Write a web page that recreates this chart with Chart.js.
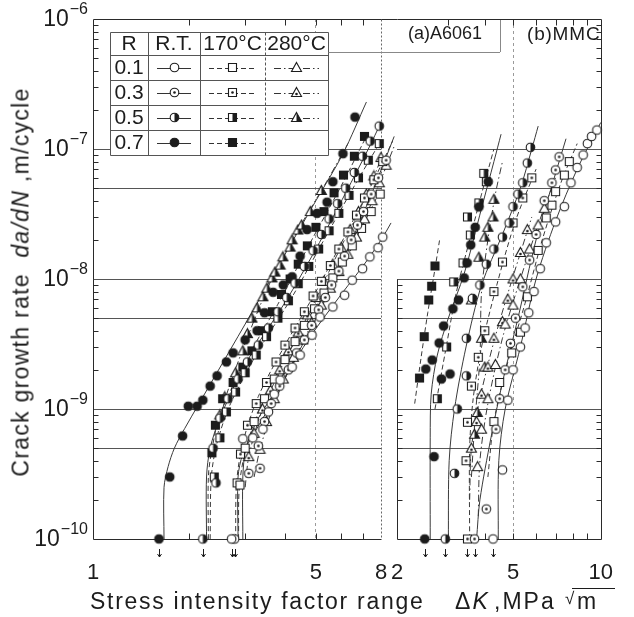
<!DOCTYPE html>
<html>
<head>
<meta charset="utf-8">
<script src="https://cdn.jsdelivr.net/npm/chart.js@4.4.1/dist/chart.umd.min.js"></script>
<style>
  html, body { margin: 0; padding: 0; background: #fff; }
  #wrap { position: relative; width: 634px; height: 617px; overflow: hidden;
          font-family: "Liberation Sans", Arial, Helvetica, sans-serif; color: #1c1c1c; }
  #wrap canvas { position: absolute; left: 0; top: 0; }
  .txt { position: absolute; white-space: nowrap; line-height: 1; }
  #yTitle { left: 21px; top: 282px; font-size: 23px; letter-spacing: 1.3px;
            transform: translate(-50%, -50%) rotate(-90deg); }
  .xt { top: 590px; font-size: 23px; }
  .pl { top: 24px; font-size: 18px; }
</style>
</head>
<body>
<div id="wrap">
  <canvas id="panelA" width="634" height="617"></canvas>
  <canvas id="panelB" width="634" height="617"></canvas>
  <div class="txt" id="yTitle">Crack growth rate&nbsp;&nbsp;<i>da/dN</i>&nbsp;,m/cycle</div>
  <div class="txt xt" style="left:90px; letter-spacing:1.7px;">Stress intensity factor range</div>
  <div class="txt xt" style="left:455px; letter-spacing:2px;">Δ<i>K</i></div>
  <div class="txt xt" style="left:494px; letter-spacing:2px;">,MPa</div>
  <div class="txt" style="left:565px; top:590px; font-size:17px;">√</div>
  <div class="txt xt" style="left:577px;">m</div>
  <div style="position:absolute; left:572px; top:588px; width:43px; border-top:1px solid #1c1c1c;"></div>
  <div class="txt pl" style="left:408px;">(a)A6061</div>
  <div class="txt pl" style="left:527px; font-size:19px; letter-spacing:0.8px;">(b)MMC</div>
</div>
<script>
const FONT = '"Liberation Sans", Arial, Helvetica, sans-serif';
const INK = '#1c1c1c';

// axes
const yMajorTicks = [1e-10, 1e-9, 1e-8, 1e-7, 1e-6];
const yTickExps = ['−10', '−9', '−8', '−7', '−6'];
const yGridLines = [5e-10, 1e-9, 5e-9, 1e-8, 5e-8, 1e-7];
const yDecades = [1e-10, 1e-9, 1e-8, 1e-7];
const minorSteps = [2, 3, 4, 5, 6, 7, 8, 9];
const xLabelsA = [1, 5, 8];
const xMinorA = [2, 3, 4, 5, 6, 7];
const xLabelsB = [2, 5, 10];
const xMinorB = [3, 4, 5, 6, 7, 8, 9];

// legend table
const rValues = ['0.1', '0.3', '0.5', '0.7'];
const tempLabels = ['R.T.', '170°C', '280°C'];

// (a) A6061  [dK, da/dN]
const a_rt_01 = [[2.72,1e-10],[2.95,5.9e-10],[3.17,6.0e-10],[3.41,7.0e-10],[3.55,9.5e-10],[3.7,1.3e-9],[3.86,1.67e-9],[4.21,2.1e-9],[4.46,2.6e-9],[4.86,3.7e-9],[5.15,5.1e-9],[5.65,6.1e-9],[6.15,7.5e-9],[6.5,9.8e-9],[7.0,1.2e-8],[7.38,1.48e-8],[7.83,1.74e-8],[8.1,2.1e-8],[8.53,2.6e-8],[8.87,3.1e-8],[9.17,3.8e-8],[9.65,5.5e-8],[9.9,6.9e-8]];
const a_rt_01_fit = [[2.95,1e-10],[2.95,3e-10],[3.02,5e-10],[3.3,8.5e-10],[3.9,1.6e-9],[4.8,3.6e-9],[6.0,7.6e-9],[7.4,1.5e-8],[8.6,2.7e-8],[9.6,5e-8],[10.4,1e-7],[10.8,1.45e-7]];
const a_rt_03 = [[2.78,1e-10],[3.08,3.2e-10],[3.34,3.5e-10],[3.3,5.2e-10],[3.45,8e-10],[3.62,1.1e-9],[3.85,1.5e-9],[4.1,2.0e-9],[4.35,2.7e-9],[4.6,3.4e-9],[4.85,4.4e-9],[5.1,5.8e-9],[5.35,7.2e-9],[5.6,9.0e-9],[5.9,1.15e-8],[6.15,1.5e-8],[6.45,2.0e-8],[6.75,2.6e-8],[7.05,3.3e-8],[7.45,4.5e-8],[7.85,6.0e-8],[8.3,8.2e-8],[8.7,1.1e-7]];
const a_rt_03_fit = [[2.85,1e-10],[2.85,3e-10],[2.95,4.5e-10],[3.2,6.5e-10],[3.7,1.2e-9],[4.5,3e-9],[5.5,8e-9],[6.6,2.2e-8],[7.6,5e-8],[8.8,1.25e-7]];
const a_rt_05 = [[2.21,1e-10],[2.43,2.7e-10],[2.38,5e-10],[2.5,8.5e-10],[2.65,1.2e-9],[2.85,1.7e-9],[3.05,2.3e-9],[3.3,3.1e-9],[3.55,4.2e-9],[3.8,5.6e-9],[4.05,7.2e-9],[4.3,9.3e-9],[4.6,1.25e-8],[4.9,1.65e-8],[5.2,2.2e-8],[5.5,2.9e-8],[5.85,3.8e-8],[6.2,5.0e-8],[6.6,6.6e-8],[7.0,8.8e-8],[7.4,1.15e-7],[7.9,1.5e-7]];
const a_rt_05_fit = [[2.27,1e-10],[2.27,3e-10],[2.33,5e-10],[2.5,8.5e-10],[3.0,2.2e-9],[4.0,6.6e-9],[5.0,1.7e-8],[6.2,4.6e-8],[7.3,1e-7],[8.0,1.6e-7]];
const a_rt_07 = [[1.61,1e-10],[1.74,3.0e-10],[1.91,6.2e-10],[1.99,1.05e-9],[2.12,1.05e-9],[2.21,1.17e-9],[2.33,1.5e-9],[2.45,1.8e-9],[2.62,2.3e-9],[2.75,2.7e-9],[3.0,3.4e-9],[3.27,4.0e-9],[3.45,5.5e-9],[3.67,7.9e-9],[3.95,9.0e-9],[4.21,1.04e-8],[4.46,1.5e-8],[4.69,2.4e-8],[5.04,3.2e-8],[5.42,3.9e-8],[5.65,5.6e-8],[6.08,9.2e-8],[6.63,1.76e-7]];
const a_rt_07_fit = [[1.67,1e-10],[1.67,2.5e-10],[1.72,3.6e-10],[1.8,5e-10],[1.94,7.1e-10],[3.0,4.5e-9],[4.0,1.55e-8],[5.0,4.0e-8],[6.08,9.2e-8],[7.2,2.3e-7]];
const a_170_01 = [[2.89,2.6e-10],[3.0,5e-10],[3.2,8e-10],[3.45,1.2e-9],[3.7,1.7e-9],[4.0,2.4e-9],[4.3,3.3e-9],[4.6,4.4e-9],[4.95,5.9e-9],[5.3,7.8e-9],[5.65,1.02e-8],[6.05,1.35e-8],[6.5,1.8e-8],[6.95,2.45e-8],[7.45,3.3e-8],[7.95,4.5e-8],[8.4,6.2e-8],[8.8,8.5e-8],[9.0,1.2e-7],[9.5,1.75e-7],[8.85,2.1e-7]];
const a_170_01_fit = [[2.86,1e-10],[2.88,2.6e-10],[3.05,5.5e-10],[3.5,1.3e-9],[4.3,3.3e-9],[5.4,8.5e-9],[6.7,2.1e-8],[8.0,5e-8],[8.9,1e-7],[9.2,2.1e-7]];
const a_170_03 = [[2.83,2.7e-10],[2.9,4.5e-10],[3.05,7.5e-10],[3.25,1.1e-9],[3.5,1.6e-9],[3.75,2.3e-9],[4.0,3.1e-9],[4.3,4.2e-9],[4.6,5.6e-9],[4.9,7.4e-9],[5.2,9.6e-9],[5.55,1.27e-8],[5.9,1.7e-8],[6.3,2.3e-8],[6.7,3.1e-8],[7.1,4.2e-8],[7.6,5.8e-8],[8.1,8.0e-8],[8.6,1.1e-7]];
const a_170_03_fit = [[2.8,1e-10],[2.82,2.7e-10],[2.95,5.5e-10],[3.3,1.25e-9],[4.0,3.1e-9],[5.0,8e-9],[6.2,2.2e-8],[7.5,5.4e-8],[8.7,1.15e-7]];
const a_170_05 = [[2.4,3e-10],[2.5,6e-10],[2.62,9.5e-10],[2.8,1.35e-9],[3.0,1.9e-9],[3.25,2.6e-9],[3.5,3.6e-9],[3.8,5.0e-9],[4.1,6.8e-9],[4.4,9.2e-9],[4.75,1.25e-8],[5.1,1.7e-8],[5.5,2.35e-8],[5.9,3.2e-8],[6.35,4.4e-8],[6.8,6.0e-8],[7.3,8.2e-8],[7.9,1.1e-7],[8.5,1.45e-7],[9.0,1.75e-7]];
const a_170_05_fit = [[2.33,1e-10],[2.35,3e-10],[2.45,5.5e-10],[2.7,1.1e-9],[3.3,2.8e-9],[4.2,7.2e-9],[5.3,2e-8],[6.6,5.2e-8],[8.0,1.15e-7],[9.1,1.85e-7]];
const a_170_07 = [[2.36,4.6e-10],[2.42,7.5e-10],[2.55,1.2e-9],[2.75,1.6e-9],[2.95,2.1e-9],[3.15,2.8e-9],[3.4,4.0e-9],[3.65,5.6e-9],[3.9,7.6e-9],[4.15,1.0e-8],[4.4,1.3e-8],[4.7,1.8e-8],[5.0,2.5e-8],[5.3,3.3e-8],[5.7,4.6e-8],[6.1,6.3e-8],[6.6,8.8e-8],[7.1,1.25e-7]];
const a_170_07_fit = [[2.3,1e-10],[2.3,3e-10],[2.35,4.6e-10],[2.5,9e-10],[3.0,2.3e-9],[3.8,6.4e-9],[4.8,1.9e-8],[6.0,5.2e-8],[7.2,1.25e-7]];
const a_280_01 = [[3.34,4.9e-10],[3.5,8e-10],[3.7,1.2e-9],[3.95,1.7e-9],[4.25,2.5e-9],[4.55,3.4e-9],[4.85,4.6e-9],[5.2,6.3e-9],[5.55,8.5e-9],[5.9,1.14e-8],[6.3,1.55e-8],[6.7,2.1e-8],[7.1,2.9e-8],[7.5,4.0e-8],[7.9,5.5e-8],[8.3,7.5e-8],[8.7,1.0e-7]];
const a_280_01_fit = [[3.2,3e-10],[3.34,4.9e-10],[3.7,1.1e-9],[4.4,2.8e-9],[5.4,7.4e-9],[6.6,1.9e-8],[7.8,5e-8],[8.8,1.05e-7]];
const a_280_03 = [[3.08,4.3e-10],[3.2,6.5e-10],[3.4,1.0e-9],[3.6,1.4e-9],[3.85,2.0e-9],[4.1,2.8e-9],[4.4,3.9e-9],[4.7,5.3e-9],[5.0,7.2e-9],[5.3,9.6e-9],[5.65,1.3e-8],[6.0,1.75e-8],[6.4,2.4e-8],[6.8,3.3e-8],[7.2,4.5e-8],[7.6,6.2e-8],[8.0,8.6e-8]];
const a_280_03_fit = [[3.0,2.5e-10],[3.08,4.3e-10],[3.35,9e-10],[3.9,2.1e-9],[4.8,5.7e-9],[5.8,1.5e-8],[7.0,3.8e-8],[8.1,9e-8]];
const a_280_05 = [[2.5,9e-10],[2.59,1.24e-9],[2.8,1.9e-9],[2.95,2.8e-9],[3.05,3.8e-9],[3.15,5.0e-9],[3.27,6.0e-9],[3.41,7.3e-9],[3.51,8.5e-9],[3.64,1.02e-8],[3.72,1.13e-8],[3.86,1.28e-8],[3.94,1.48e-8],[4.15,1.76e-8],[4.21,2.0e-8],[4.39,2.38e-8],[4.51,2.6e-8],[4.8,3.3e-8],[5.2,4.8e-8]];
const a_280_05_fit = [[2.45,6e-10],[2.6,1.2e-9],[3.0,3.2e-9],[3.6,9.5e-9],[4.4,2.4e-8],[5.4,5.6e-8],[6.3,1.1e-7]];

// (b) MMC  [dK, da/dN]
const b_rt_01 = [[4.27,1e-10],[4.6,3.4e-10],[4.8,1.17e-9],[5.0,2.0e-9],[5.3,3.0e-9],[5.5,4.2e-9],[5.66,5.5e-9],[5.9,8.0e-9],[6.2,1.2e-8],[6.5,1.9e-8],[7.0,2.75e-8],[7.5,3.6e-8],[7.9,5.5e-8],[8.3,7.2e-8],[8.7,9.0e-8],[9.0,1.1e-7],[9.3,1.25e-7],[9.7,1.4e-7]];
const b_rt_01_fit = [[4.45,1e-10],[4.47,4e-10],[4.7,1e-9],[5.3,3e-9],[6.0,1e-8],[7.0,2.8e-8],[8.3,7e-8],[10.0,1.6e-7]];
const b_rt_03 = [[3.69,1e-10],[4.05,1.7e-10],[4.37,7.0e-10],[4.5,1.2e-9],[4.7,2.0e-9],[4.9,3.2e-9],[5.1,5.0e-9],[5.4,8.7e-9],[5.7,1.4e-8],[6.0,2.2e-8],[6.4,4.0e-8],[6.8,5.5e-8],[7.0,6.9e-8],[7.2,8.7e-8]];
const b_rt_03_fit = [[3.75,1e-10],[3.85,2e-10],[4.2,6e-10],[4.6,1.6e-9],[5.2,5e-9],[6.0,2e-8],[7.0,6.5e-8],[7.6,1.2e-7]];
const b_rt_05 = [[2.93,1e-10],[3.15,3.2e-10],[3.22,1.0e-9],[3.46,1.8e-9],[3.46,3.5e-9],[3.63,7.1e-9],[3.85,9.0e-9],[4.05,1.3e-8],[4.3,1.7e-8],[4.6,2.1e-8],[4.85,2.7e-8],[5.0,3.6e-8],[5.2,4.5e-8],[5.4,5.5e-8],[5.6,7.8e-8],[5.74,1.03e-7]];
const b_rt_05_fit = [[3.0,1e-10],[3.02,4e-10],[3.15,1e-9],[3.45,3e-9],[3.9,9e-9],[4.6,2.2e-8],[5.3,5e-8],[5.8,1e-7],[6.1,1.5e-7]];
const b_rt_07 = [[2.49,1e-10],[2.68,4.3e-10],[2.84,1.7e-9],[3.04,1.86e-9],[2.51,2.03e-9],[2.64,2.38e-9],[2.79,3.22e-9],[2.89,4.35e-9],[3.11,5.9e-9],[3.25,6.9e-9],[3.40,1.02e-8],[3.48,1.33e-8],[3.58,1.83e-8],[3.71,2.5e-8],[3.82,3.58e-8],[4.11,5.6e-8]];
const b_rt_07_fit = [[2.6,1e-10],[2.6,6e-10],[2.62,1.3e-9],[2.75,2.6e-9],[3.0,5e-9],[3.4,1.1e-8],[3.9,3.5e-8],[4.3,8e-8],[4.55,1.3e-7]];
const b_170_01 = [[4.3,8e-10],[4.5,1.6e-9],[4.95,2.7e-9],[5.3,3.9e-9],[5.6,7.3e-9],[6.1,1.66e-8],[6.5,2.95e-8],[6.8,3.7e-8],[7.0,4.7e-8],[7.5,6.3e-8],[7.8,8.0e-8]];
const b_170_01_fit = [[4.1,3e-10],[4.3,8e-10],[4.8,2.3e-9],[5.5,6.5e-9],[6.3,2e-8],[7.3,5.5e-8],[8.3,1.1e-7]];
const b_170_03 = [[3.49,1e-10],[3.45,4.0e-10],[3.49,7.9e-10],[3.6,1.5e-9],[3.8,2.5e-9],[4.0,4.0e-9],[4.3,8.0e-9],[4.6,1.35e-8],[5.0,2.7e-8],[5.4,4.2e-8],[5.8,6.0e-8]];
const b_170_03_fit = [[3.55,1e-10],[3.55,5e-10],[3.65,1.2e-9],[3.9,3e-9],[4.4,9e-9],[5.1,2.8e-8],[6.0,7e-8]];
const b_170_05 = [[2.75,1.2e-9],[2.96,3.0e-9],[3.13,9.5e-9],[3.37,1.33e-8],[3.57,2.18e-8],[3.49,3.0e-8],[3.82,3.85e-8],[4.05,5.6e-8],[3.97,6.5e-8]];
const b_170_05_fit = [[2.7,1e-9],[2.95,3e-9],[3.2,8e-9],[3.55,2e-8],[3.9,4.5e-8],[4.3,1e-7]];
const b_170_07 = [[2.39,1.73e-9],[2.48,3.6e-9],[2.57,6.9e-9],[2.63,8.8e-9],[2.70,1.26e-8]];
const b_170_07_fit = [[2.3,1.1e-9],[2.42,2.5e-9],[2.55,5.5e-9],[2.7,1.2e-8],[2.8,2.0e-8]];
const b_280_01 = [[3.78,3.6e-10],[3.9,7e-10],[4.1,1.2e-9],[4.35,2.2e-9],[4.7,4.5e-9],[5.0,6.3e-9],[5.3,1.0e-8],[5.7,1.7e-8],[6.1,2.6e-8],[6.4,3.5e-8]];
const b_280_01_fit = [[3.8,1.5e-10],[3.85,4e-10],[4.1,1.1e-9],[4.6,3.5e-9],[5.3,1e-8],[6.2,2.9e-8],[7.0,6e-8]];
const b_280_03 = [[3.6,5e-10],[3.75,8e-10],[3.9,1.3e-9],[4.1,2.1e-9],[4.3,3.5e-9],[4.6,4.7e-9],[4.8,7.0e-9],[5.0,1.0e-8],[5.3,1.6e-8],[5.6,2.4e-8]];
const b_280_03_fit = [[3.55,2e-10],[3.6,5e-10],[3.85,1.2e-9],[4.3,3.3e-9],[4.9,9e-9],[5.8,3e-8]];
const b_280_05 = [[3.69,6.4e-10],[3.77,9.4e-10],[4.0,2.1e-9],[3.9,3.5e-9],[3.6,6.9e-9],[3.82,1.47e-8],[4.0,2.1e-8],[4.1,2.5e-8],[4.27,3.0e-8],[4.3,4.1e-8]];
const b_280_05_fit = [[3.6,3e-10],[3.7,8e-10],[3.85,2.5e-9],[3.9,8e-9],[4.1,2e-8],[4.35,4.5e-8],[4.6,8e-8]];

// series: [points, fitted curve, temperature index, R index]
const seriesA = [
  [a_rt_01, a_rt_01_fit, 0, 0], [a_rt_03, a_rt_03_fit, 0, 1], [a_rt_05, a_rt_05_fit, 0, 2], [a_rt_07, a_rt_07_fit, 0, 3],
  [a_170_01, a_170_01_fit, 1, 0], [a_170_03, a_170_03_fit, 1, 1], [a_170_05, a_170_05_fit, 1, 2], [a_170_07, a_170_07_fit, 1, 3],
  [a_280_01, a_280_01_fit, 2, 0], [a_280_03, a_280_03_fit, 2, 1], [a_280_05, a_280_05_fit, 2, 2]
];
const seriesB = [
  [b_rt_01, b_rt_01_fit, 0, 0], [b_rt_03, b_rt_03_fit, 0, 1], [b_rt_05, b_rt_05_fit, 0, 2], [b_rt_07, b_rt_07_fit, 0, 3],
  [b_170_01, b_170_01_fit, 1, 0], [b_170_03, b_170_03_fit, 1, 1], [b_170_05, b_170_05_fit, 1, 2], [b_170_07, b_170_07_fit, 1, 3],
  [b_280_01, b_280_01_fit, 2, 0], [b_280_03, b_280_03_fit, 2, 1], [b_280_05, b_280_05_fit, 2, 2]
];

// styles
const fillKinds = ['open', 'dot', 'half', 'full'];
const shapeKinds = ['circle', 'square', 'triangle'];
const dashKinds = [[], [5, 3], [7, 3, 1.5, 3]];

function makeMarker(shape, fill) {
  const s = 13, m = s / 2;
  const c = document.createElement('canvas');
  c.width = s; c.height = s;
  const g = c.getContext('2d');
  const path = () => {
    g.beginPath();
    if (shape === 'circle') g.arc(m, m, 4.3, 0, Math.PI * 2);
    else if (shape === 'square') g.rect(m - 4, m - 4, 8, 8);
    else { g.moveTo(m, m - 5); g.lineTo(m + 5, m + 4); g.lineTo(m - 5, m + 4); g.closePath(); }
  };
  path();
  g.fillStyle = fill === 'full' ? INK : '#fff';
  g.fill();
  if (fill === 'half') {
    g.save(); path(); g.clip();
    g.fillStyle = INK; g.fillRect(m, 0, s, s);
    g.restore();
  }
  if (fill === 'dot') {
    g.beginPath();
    g.arc(m, shape === 'triangle' ? m + 1.5 : m, 1.3, 0, Math.PI * 2);
    g.fillStyle = INK; g.fill();
  }
  path();
  g.lineWidth = 1.1; g.strokeStyle = INK; g.stroke();
  return c;
}

const markerCache = {};
function marker(t, r) {
  const key = t + '-' + r;
  if (!markerCache[key]) markerCache[key] = makeMarker(shapeKinds[t], fillKinds[r]);
  return markerCache[key];
}

const toXY = arr => arr.map(p => ({ x: p[0], y: p[1] }));

function buildDatasets(series) {
  const marks = [], fits = [];
  series.forEach(([pts, fit, t, r]) => {
    marks.push({ data: toXY(pts), showLine: false, pointStyle: marker(t, r), pointRadius: 5, clip: false });
    fits.push({ data: toXY(fit), showLine: true, pointRadius: 0, borderColor: '#3a3a3a', borderWidth: 1,
                borderDash: dashKinds[t], tension: 0.3, clip: false, fill: false });
  });
  return marks.concat(fits);
}

function panelOptions(cfg) {
  return {
    responsive: false, animation: false, events: [], devicePixelRatio: 1,
    layout: { padding: cfg.padding },
    plugins: { legend: { display: false }, tooltip: { enabled: false } },
    scales: {
      x: {
        type: 'logarithmic', min: cfg.xMin, max: cfg.xMax,
        afterBuildTicks: s => { s.ticks = cfg.xLabels.map(v => ({ value: v })); },
        afterFit: s => { s.height = 40; },
        grid: { drawTicks: false, lineWidth: 1,
                color: c => (c.tick && c.tick.value === 5) ? '#9a9a9a' : 'rgba(0,0,0,0)' },
        border: { display: false, dash: [3, 3] },
        ticks: { autoSkip: false, maxRotation: 0, padding: 21, color: INK,
                 font: { family: FONT, size: 22 }, callback: v => String(v) }
      },
      y: {
        type: 'logarithmic', min: 1e-10, max: 1e-6, position: cfg.yPos,
        afterBuildTicks: s => { s.ticks = yGridLines.map(v => ({ value: v })); },
        afterFit: s => { s.width = cfg.yWidth; },
        grid: { drawTicks: false, color: '#555', lineWidth: 1 },
        border: { display: false },
        ticks: { display: false }
      }
    }
  };
}

const px = v => Math.round(v) + 0.5;

function framePlugin(side) {
  return {
    id: 'frame' + side,
    beforeDatasetsDraw(chart) {
      const { ctx, chartArea: a, scales: { x, y } } = chart;
      ctx.save();
      ctx.strokeStyle = '#2a2a2a';
      ctx.lineWidth = 1;
      const L = px(a.left), R = px(a.right), T = px(a.top), B = px(a.bottom);
      ctx.beginPath();
      ctx.moveTo(L, T); ctx.lineTo(side === 'A' ? R + 16 : R, T);
      ctx.moveTo(L, B); ctx.lineTo(R, B);
      if (side === 'A') { ctx.moveTo(L, T); ctx.lineTo(L, B); }
      else {
        ctx.moveTo(R, T); ctx.lineTo(R, B);
        ctx.moveTo(L, px(y.getPixelForValue(1e-8))); ctx.lineTo(L, B);
      }
      ctx.stroke();
      if (side === 'A') {
        ctx.save(); ctx.setLineDash([2, 2]); ctx.strokeStyle = '#666';
        ctx.beginPath(); ctx.moveTo(R, T); ctx.lineTo(R, B); ctx.stroke();
        ctx.restore();
      }
      // inner minor ticks
      ctx.beginPath();
      yDecades.forEach(d => minorSteps.forEach(m => {
        const py = px(y.getPixelForValue(d * m));
        if (side === 'A') { ctx.moveTo(L, py); ctx.lineTo(L + 5, py); }
        else {
          ctx.moveTo(R, py); ctx.lineTo(R - 5, py);
          if (d * m <= 1e-8) { ctx.moveTo(L, py); ctx.lineTo(L + 5, py); }
        }
      }));
      (side === 'A' ? xMinorA : xMinorB).forEach(v => {
        const p = px(x.getPixelForValue(v));
        ctx.moveTo(p, B); ctx.lineTo(p, B - 6);
        ctx.moveTo(p, T); ctx.lineTo(p, T + 6);
      });
      ctx.stroke();
      ctx.restore();
    },
    afterDatasetsDraw(chart) {
      // arrows under points sitting on the lower limit
      const { ctx, chartArea: a, scales: { x } } = chart;
      ctx.save();
      ctx.strokeStyle = INK; ctx.lineWidth = 1;
      chart.data.datasets.forEach(ds => {
        if (ds.showLine) return;
        ds.data.forEach(p => {
          if (p.y > 1.001e-10) return;
          const xx = px(x.getPixelForValue(p.x)), y0 = a.bottom + 10;
          ctx.beginPath();
          ctx.moveTo(xx, y0); ctx.lineTo(xx, y0 + 8);
          ctx.moveTo(xx - 2, y0 + 5); ctx.lineTo(xx, y0 + 8); ctx.lineTo(xx + 2, y0 + 5);
          ctx.stroke();
        });
      });
      ctx.restore();
    }
  };
}

const yLabelPlugin = {
  id: 'yLabels',
  afterDraw(chart) {
    const { ctx, scales: { y } } = chart;
    const right = 88;
    ctx.save();
    ctx.fillStyle = INK;
    ctx.textBaseline = 'middle';
    yMajorTicks.forEach((v, i) => {
      const py = y.getPixelForValue(v);
      ctx.font = '16px ' + FONT;
      const ew = ctx.measureText(yTickExps[i]).width;
      ctx.textAlign = 'left';
      ctx.fillText(yTickExps[i], right - ew, py - 9);
      ctx.font = '23px ' + FONT;
      ctx.textAlign = 'right';
      ctx.fillText('10', right - ew - 1, py + 1);
    });
    ctx.restore();
  }
};

const legendPlugin = {
  id: 'legendTable',
  afterDatasetsDraw(chart) {
    const ctx = chart.ctx;
    const cols = [110, 148, 200, 265, 328];
    const top = 32, head = 55, rowH = 25;
    const bottom = head + rowH * rValues.length;
    ctx.save();
    ctx.fillStyle = '#fff';
    ctx.fillRect(cols[0], top, cols[4] - cols[0], bottom - top);
    ctx.strokeStyle = '#555'; ctx.lineWidth = 1;
    ctx.beginPath();
    ctx.rect(px(cols[0]), px(top), cols[4] - cols[0], bottom - top);
    [head, head + rowH, head + 2 * rowH, head + 3 * rowH].forEach(yy => { ctx.moveTo(px(cols[0]), px(yy)); ctx.lineTo(px(cols[4]), px(yy)); });
    [1, 2].forEach(i => { ctx.moveTo(px(cols[i]), px(top)); ctx.lineTo(px(cols[i]), px(bottom)); });
    ctx.stroke();
    ctx.save(); ctx.setLineDash([3, 2]);
    ctx.beginPath(); ctx.moveTo(px(cols[3]), px(top)); ctx.lineTo(px(cols[3]), px(bottom)); ctx.stroke();
    ctx.restore();
    // line from the table toward the panel label
    ctx.beginPath();
    ctx.moveTo(px(cols[4]), px(head - 3)); ctx.lineTo(500, px(head - 3));
    ctx.moveTo(500.5, 19); ctx.lineTo(500.5, head - 3);
    ctx.strokeStyle = '#888'; ctx.stroke();

    ctx.fillStyle = INK;
    ctx.textAlign = 'center'; ctx.textBaseline = 'middle';
    ctx.font = '21px ' + FONT;
    ctx.fillText('R', (cols[0] + cols[1]) / 2, (top + head) / 2 + 1);
    tempLabels.forEach((t, i) => ctx.fillText(t, (cols[i + 1] + cols[i + 2]) / 2, (top + head) / 2 + 1));
    rValues.forEach((r, ri) => {
      const cy = head + rowH * ri + rowH / 2;
      ctx.fillStyle = INK;
      ctx.fillText(r, (cols[0] + cols[1]) / 2, cy + 1);
      tempLabels.forEach((t, ti) => {
        if (ti === 2 && ri === 3) return;
        const l = cols[ti + 1] + 9, rr = cols[ti + 2] - 9, cx = (l + rr) / 2;
        ctx.save();
        ctx.strokeStyle = '#333'; ctx.lineWidth = 1; ctx.setLineDash(dashKinds[ti]);
        ctx.beginPath(); ctx.moveTo(l, px(cy)); ctx.lineTo(rr, px(cy)); ctx.stroke();
        ctx.restore();
        const mk = marker(ti, ri);
        ctx.drawImage(mk, Math.round(cx - mk.width / 2), Math.round(cy - mk.height / 2));
      });
    });
    ctx.restore();
  }
};

new Chart(document.getElementById('panelA'), {
  type: 'scatter',
  data: { datasets: buildDatasets(seriesA) },
  options: panelOptions({ xMin: 1, xMax: 8, xLabels: xLabelsA, yPos: 'left', yWidth: 85,
                          padding: { left: 8, right: 253, top: 19, bottom: 38 } }),
  plugins: [framePlugin('A'), yLabelPlugin, legendPlugin]
});

new Chart(document.getElementById('panelB'), {
  type: 'scatter',
  data: { datasets: buildDatasets(seriesB) },
  options: panelOptions({ xMin: 2, xMax: 10, xLabels: xLabelsB, yPos: 'right', yWidth: 0,
                          padding: { left: 397, right: 18, top: 19, bottom: 38 } }),
  plugins: [framePlugin('B')]
});
</script>
</body>
</html>
